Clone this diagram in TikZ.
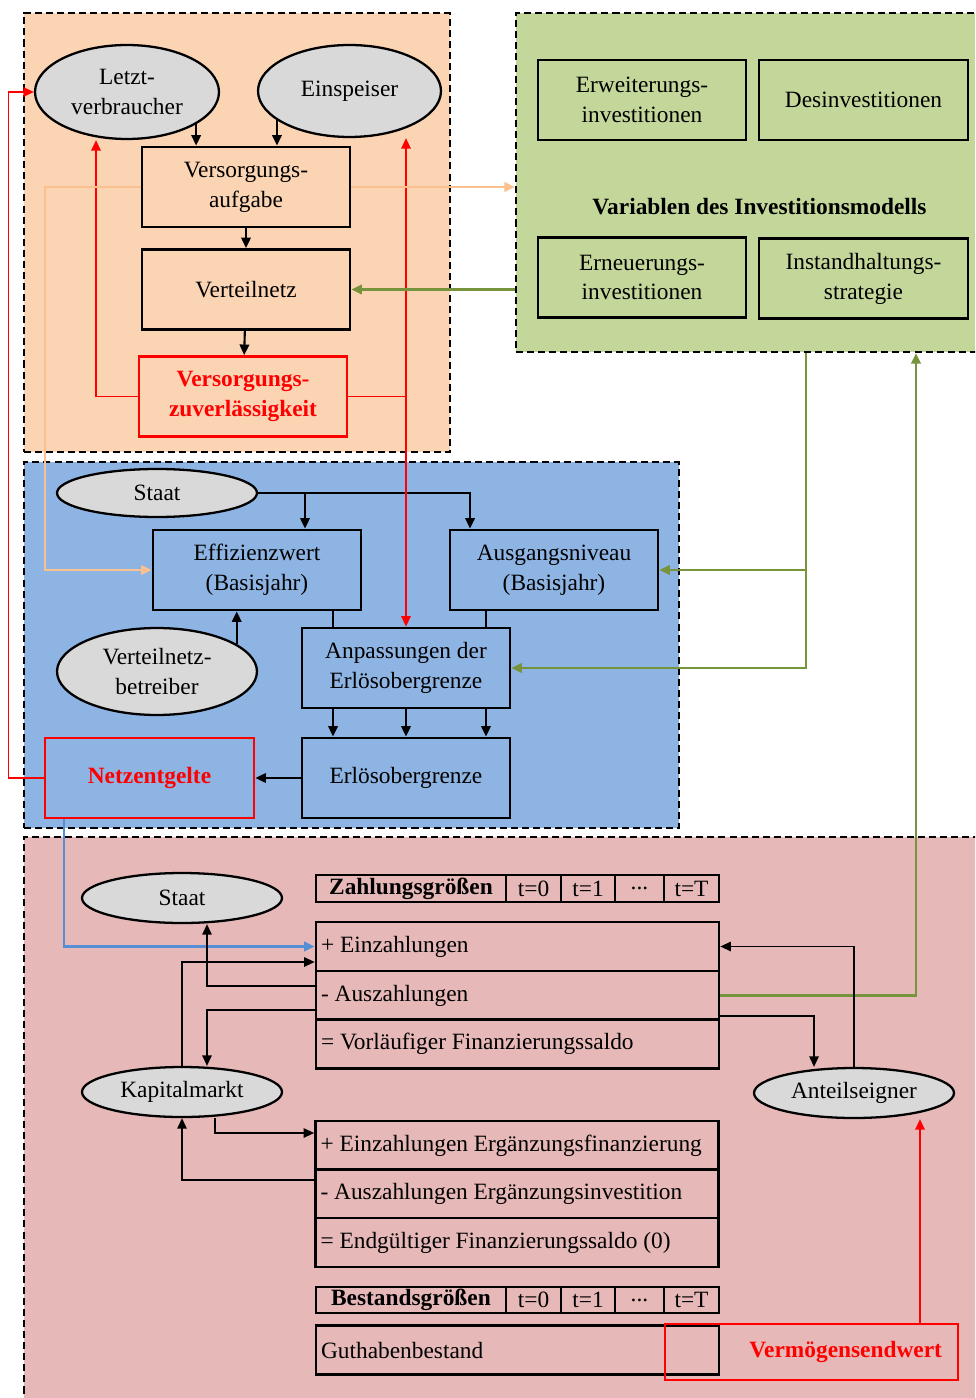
\documentclass[tikz,border=0pt]{standalone}
\usepackage{fontspec}
\setmainfont{Liberation Serif}
\usetikzlibrary{shapes.geometric,arrows.meta}
\definecolor{orfill}{HTML}{FBD4B4}
\definecolor{grfill}{HTML}{C4D79B}
\definecolor{blfill}{HTML}{8EB4E3}
\definecolor{pkfill}{HTML}{E6B9B8}
\definecolor{actfill}{HTML}{D9D9D9}
\definecolor{grline}{HTML}{77933C}
\definecolor{orline}{HTML}{FAC090}
\definecolor{blline}{HTML}{558ED5}
\newcommand{\diagfont}{\fontsize{13.3}{17}\selectfont}
\tikzset{
  region/.style={draw, line width=1.3pt, dash pattern=on 4pt off 2.3pt, inner sep=0pt},
  actor/.style={ellipse, draw, line width=1.3pt, fill=actfill, minimum width=4cm,
    minimum height=1cm, inner sep=0pt, align=center},
  block/.style={draw, line width=1.6pt, minimum width=4.16cm, minimum height=1.6cm,
    inner sep=2pt, align=center},
  redblock/.style={block, draw=red, text=red, font=\diagfont\bfseries},
  hcell/.style={draw, line width=0.7pt, minimum height=0.54cm, inner sep=0pt},
  row/.style={draw, line width=1.6pt, minimum height=0.98cm, text width=7.86cm,
    inner xsep=0.1cm, inner ysep=0pt, align=flush left},
  tip/.style={-{Triangle[length=6pt,width=5.4pt]}},
  blk/.style={tip, line width=1.2pt},
  thinarr/.style={tip, line width=0.8pt},
  redarr/.style={tip, draw=red, line width=0.9pt},
  orarr/.style={tip, draw=orline, line width=1.2pt},
  grarr/.style={tip, draw=grline, line width=1.5pt},
  blarr/.style={tip, draw=blline, line width=1.4pt}
}
\begin{document}
\begin{tikzpicture}[x=0.02cm, y=-0.02cm, font=\diagfont]
  \useasboundingbox (0,0) rectangle (975,1398);
  \clip (0,0) rectangle (975,1398);
  \node[region, fill=orfill, minimum width=8.52cm, minimum height=8.78cm] (orreg) at (237,232.5) {};
  \node[region, fill=grfill, minimum width=9.38cm, minimum height=6.78cm] (grreg) at (750.5,182.5) {};
  \node[region, fill=blfill, minimum width=13.1cm, minimum height=7.32cm] (blreg) at (351.5,645) {};
  \node[region, fill=pkfill, minimum width=19.22cm, minimum height=11.46cm] (pkreg) at (504.5,1123.5) {};

  % Netz
  \node[actor, minimum width=3.68cm, minimum height=1.88cm] (lv) at (127,92) {Letzt-\\verbraucher};
  \node[actor, minimum width=3.66cm, minimum height=1.84cm] (es) at (349.5,91) {Einspeiser};
  \node[block] (va) at (246,187) {Versorgungs-\\aufgabe};
  \node[block] (vn) at (246,289.5) {Verteilnetz};
  \node[redblock] (vz) at (243,396.5) {Versorgungs-\\zuverlässigkeit};

  % Investitionsmodell
  \node[block] (ew) at (642,100) {Erweiterungs-\\investitionen};
  \node[block, minimum width=4.18cm] (di) at (863.5,100) {Desinvestitionen};
  \node[font=\diagfont\bfseries] (vtitle) at (759.5,207) {Variablen des Investitionsmodells};
  \node[block] (en) at (642,277.5) {Erneuerungs-\\investitionen};
  \node[block, minimum width=4.18cm] (ih) at (863.5,278.5) {Instandhaltungs-\\strategie};

  % Regulierung
  \node[actor, minimum height=0.96cm] (st1) at (157,493) {Staat};
  \node[block] (ez) at (257,570) {Effizienzwert\\(Basisjahr)};
  \node[block] (an) at (554,570) {Ausgangsniveau\\(Basisjahr)};
  \node[actor, minimum height=1.74cm] (vnb) at (157,671.5) {Verteilnetz-\\betreiber};
  \node[block] (ap) at (406,668) {Anpassungen der\\Erlösobergrenze};
  \node[block] (eo) at (406,778) {Erlösobergrenze};
  \node[redblock, minimum width=4.18cm] (ne) at (149.5,778) {Netzentgelte};

  % Finanzplan
  \node[actor] (st2) at (182,898) {Staat};
  \node[hcell, minimum width=3.8cm, font=\diagfont\bfseries] (zg) at (411,888.5) {Zahlungsgrößen};
  \node[hcell, minimum width=1.1cm] (zt0) at (533.5,888.5) {t=0};
  \node[hcell, minimum width=1.08cm] (zt1) at (588,888.5) {t=1};
  \node[hcell, minimum width=0.98cm] (ztd) at (639.5,888.5) {...};
  \node[hcell, minimum width=1.1cm] (ztT) at (691.5,888.5) {t=T};
  \node[row] (ez1) at (517.5,946.5) {+ Einzahlungen};
  \node[row] (az1) at (517.5,995.5) {- Auszahlungen};
  \node[row] (vf) at (517.5,1044) {= Vorläufiger Finanzierungssaldo};
  \node[actor] (km) at (182,1092) {Kapitalmarkt};
  \node[actor] (ag) at (854,1093) {Anteilseigner};
  \node[row] (ez2) at (517,1145.5) {+ Einzahlungen Ergänzungsfinanzierung};
  \node[row] (az2) at (517,1193.5) {- Auszahlungen Ergänzungsinvestition};
  \node[row] (eg) at (517,1242.5) {= Endgültiger Finanzierungssaldo (0)};
  \node[hcell, minimum width=3.8cm, minimum height=0.52cm, font=\diagfont\bfseries] (bg) at (411,1300) {Bestandsgrößen};
  \node[hcell, minimum width=1.1cm, minimum height=0.52cm] (bt0) at (533.5,1300) {t=0};
  \node[hcell, minimum width=1.08cm, minimum height=0.52cm] (bt1) at (588,1300) {t=1};
  \node[hcell, minimum width=0.98cm, minimum height=0.52cm] (btd) at (639.5,1300) {...};
  \node[hcell, minimum width=1.1cm, minimum height=0.52cm] (btT) at (691.5,1300) {t=T};
  \node[row] (gb) at (517.5,1350) {Guthabenbestand};
  \node[draw=red, line width=1.6pt, text=red, font=\diagfont\bfseries, minimum height=1.12cm,
    text width=5.22cm, inner xsep=0.32cm, align=right] (vw) at (811.5,1352) {Vermögensendwert};

  \coordinate (sj) at ([xshift=0.96cm]ez.north);
  \coordinate (al) at ([xshift=-1.46cm]ap.north);
  \coordinate (ar) at ([xshift=1.6cm]ap.north);
  \coordinate (gv) at ([xshift=1.11cm]grreg.south);
  \coordinate (gw) at ([xshift=3.31cm]grreg.south);
  \coordinate (vr) at ([xshift=2.17cm]vw.north);

  \begin{scope}[blk]
    \draw (lv.-25) -- (lv.-25 |- va.north);
    \draw (es.202) -- (es.202 |- va.north);
    \draw (va) -- (vn);
    \draw (vn) -- (vz);
    \draw (st1.east) -| ([xshift=-1.68cm]an.north);
    \draw (sj |- st1.east) -- (sj);
    \draw (vnb.19) -- (vnb.19 |- ez.south);
    \draw[-] (al) -- (al |- ez.south);
    \draw[-] (ar) -- (ar |- an.south);
    \foreach \s in {-1.46,0,1.6}
      \draw ([xshift=\s cm]ap.south) -- ([xshift=\s cm]eo.north);
    \draw (eo) -- (ne);
  \end{scope}

  \begin{scope}[redarr]
    \draw (vz.west) -| ([xshift=-0.62cm]lv.south);
    \draw (vz.east) -| (es.south -| ap.north);
    \draw (vz.east -| ap.north) -- (ap.north);
    \draw (ne.west) -- ++(-35,0) |- (lv.west);
    \draw (vr) -- (vr |- ag.south);
  \end{scope}

  \begin{scope}[orarr]
    \draw (va.west) -- ++(-96,0) |- (ez.west);
    \draw (va.east) -- (va.east -| grreg.west);
  \end{scope}

  \begin{scope}[grarr]
    \draw (vn.east -| grreg.west) -- (vn.east);
    \draw (gv) |- (ap.east);
    \draw (gv |- an.east) -- (an.east);
    \draw (az1.east) -| (gw);
  \end{scope}

  \draw[blarr] ([xshift=-1.71cm]ne.south) |- (ez1.west);

  \begin{scope}[thinarr]
    \draw (km.north) |- ([yshift=-0.31cm]ez1.west);
    \draw ([yshift=0.19cm]az1.west) -| ([xshift=0.5cm]st2.south);
    \draw ([yshift=-0.29cm]az1.west) -| ([xshift=0.5cm]km.north);
    \draw (ag.north) |- (ez1.east);
    \draw ([yshift=-0.41cm]az1.east) -| ([xshift=-0.8cm]ag.north);
    \draw ([xshift=0.66cm]km.south) |- ([yshift=0.25cm]ez2.west);
    \draw ([yshift=0.27cm]az2.west) -| (km.south);
  \end{scope}
\end{tikzpicture}
\end{document}
